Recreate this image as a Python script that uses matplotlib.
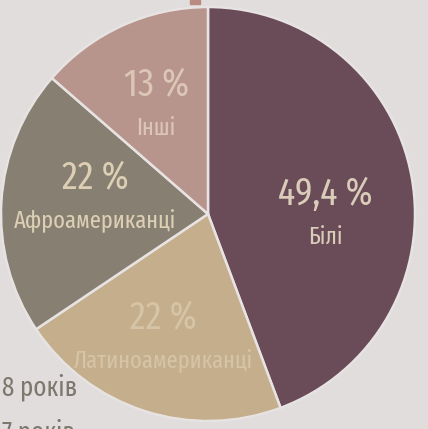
import matplotlib
matplotlib.use("Agg")
import matplotlib.pyplot as plt
from matplotlib.patches import Rectangle

# доля сегментів (як вони намальовані) та підписи
groups = ['Білі', 'Латиноамериканці', 'Афроамериканці', 'Інші']
shares = [44.3, 21.3, 20.8, 13.6]
pct_labels = ['49,4 %', '22 %', '22 %', '13 %']
colors = ['#6a4b58', '#c4ae8c', '#878072', '#b8958c']
text_colors = ['#d9ccb9', '#d6c4a6', '#dccfb4', '#dcc7b6']

plt.rcParams['font.family'] = ['Fira Sans Extra Condensed', 'DejaVu Sans']

fig = plt.figure(figsize=(4.28, 4.29), dpi=100, facecolor='#e2dddd')
ax = fig.add_axes([0, 0, 1, 1])
ax.set_facecolor('#e2dddd')

cx, cy, r = 208, 215, 207
wedges, _ = ax.pie(shares, colors=colors, startangle=90, counterclock=False,
                   center=(cx, cy), radius=r, frame=True,
                   wedgeprops=dict(edgecolor='#e8e3e3', linewidth=1.8))
ax.set_xlim(0, 428)
ax.set_ylim(0, 429)
ax.set_aspect('equal')
ax.axis('off')

# позиції підписів (частка радіуса від центру)
label_pos = [(0.565, -0.051), (-0.217, -0.647), (-0.546, 0.027), (-0.251, 0.478)]
for (dx, dy), pl, g, tc in zip(label_pos, pct_labels, groups, text_colors):
    x = cx + dx * r
    y = cy + dy * r
    ax.text(x, y + 20, pl, ha='center', va='baseline', fontsize=28, color=tc)
    ax.text(x, y - 20, g, ha='center', va='baseline', fontsize=17.5, color=tc)

# фрагменти тексту по краях
ax.text(2, 34, '8 років', ha='left', va='baseline', fontsize=19.5, color='#7d786e')
ax.text(2, -11, '7 років', ha='left', va='baseline', fontsize=19.5, color='#7d786e')
fig.patches.append(Rectangle((190 / 428, 1 - 4 / 429), 10 / 428, 4 / 429,
                             transform=fig.transFigure, color='#b98a80'))

fig.savefig('out.png', dpi=100, facecolor=fig.get_facecolor())
